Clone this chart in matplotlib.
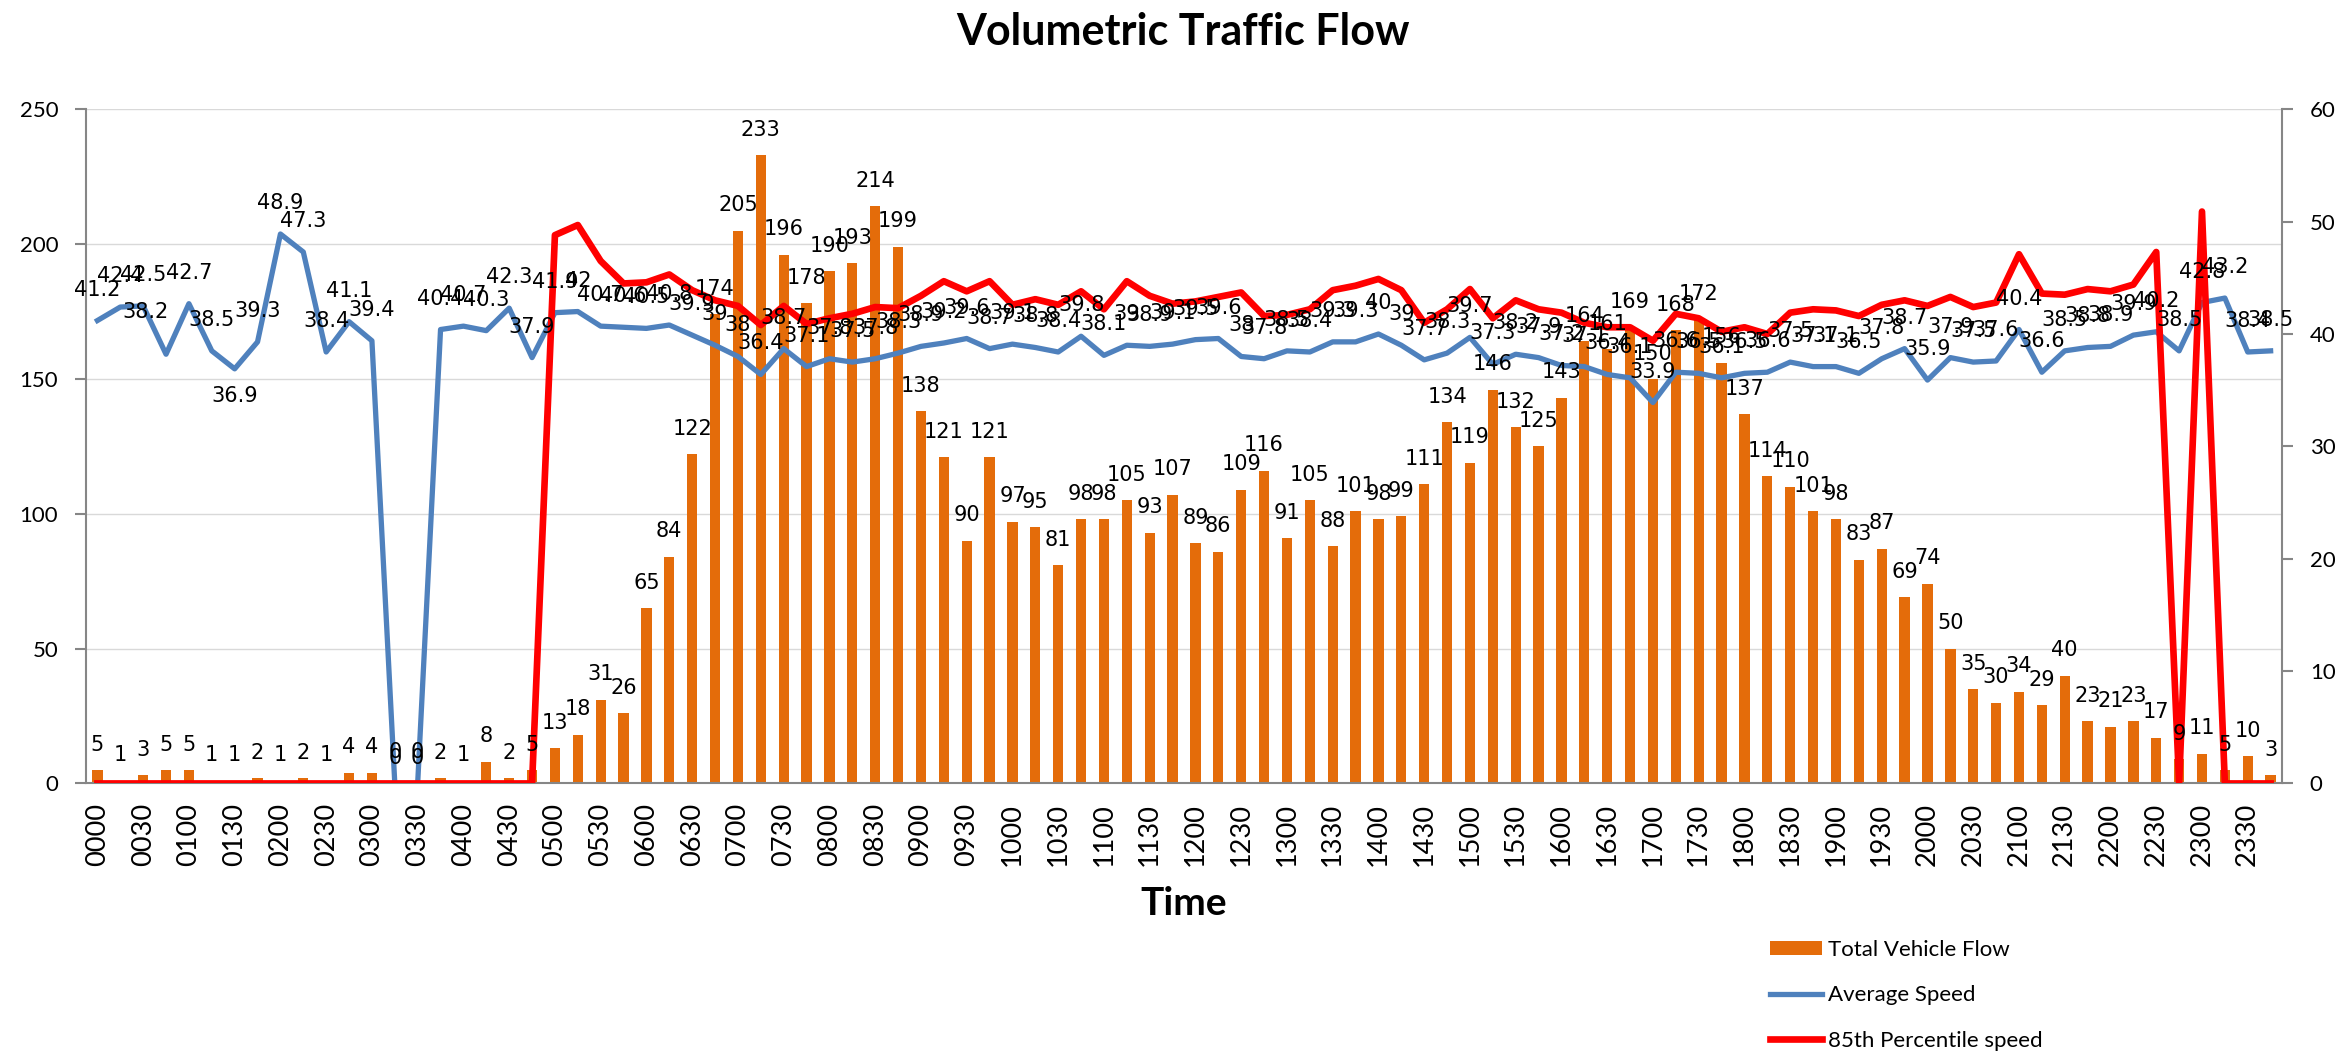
import matplotlib.pyplot as plt
import numpy as np

plt.rcParams['font.family'] = ['Lato', 'DejaVu Sans']

# 15 minute slots, 0000 .. 2345
times = ["%02d%02d" % (h, m) for h in range(24) for m in (0, 15, 30, 45)]

flow = [5, 1, 3, 5,
        5, 1, 1, 2,
        1, 2, 1, 4,
        4, 0, 0, 2,
        1, 8, 2, 5,
        13, 18, 31, 26,
        65, 84, 122, 174,
        205, 233, 196, 178,
        190, 193, 214, 199,
        138, 121, 90, 121,
        97, 95, 81, 98,
        98, 105, 93, 107,
        89, 86, 109, 116,
        91, 105, 88, 101,
        98, 99, 111, 134,
        119, 146, 132, 125,
        143, 164, 161, 169,
        150, 168, 172, 156,
        137, 114, 110, 101,
        98, 83, 87, 69,
        74, 50, 35, 30,
        34, 29, 40, 23,
        21, 23, 17, 9,
        11, 5, 10, 3]

avg_speed = [41.2, 42.4, 42.5, 38.2,
             42.7, 38.5, 36.9, 39.3,
             48.9, 47.3, 38.4, 41.1,
             39.4, 0, 0, 40.4,
             40.7, 40.3, 42.3, 37.9,
             41.9, 42, 40.7, 40.6,
             40.5, 40.8, 39.9, 39,
             38, 36.4, 38.7, 37.1,
             37.8, 37.5, 37.8, 38.3,
             38.9, 39.2, 39.6, 38.7,
             39.1, 38.8, 38.4, 39.8,
             38.1, 39, 38.9, 39.1,
             39.5, 39.6, 38, 37.8,
             38.5, 38.4, 39.3, 39.3,
             40, 39, 37.7, 38.3,
             39.7, 37.3, 38.2, 37.9,
             37.2, 37.1, 36.4, 36.1,
             33.9, 36.6, 36.5, 36.1,
             36.5, 36.6, 37.5, 37.1,
             37.1, 36.5, 37.8, 38.7,
             35.9, 37.9, 37.5, 37.6,
             40.4, 36.6, 38.5, 38.8,
             38.9, 39.9, 40.2, 38.5,
             42.8, 43.2, 38.4, 38.5]

p85_speed = [0, 0, 0, 0,
             0, 0, 0, 0,
             0, 0, 0, 0,
             0, 0, 0, 0,
             0, 0, 0, 0,
             48.8, 49.7, 46.5, 44.5,
             44.6, 45.3, 43.9, 43.0,
             42.5, 40.8, 42.5, 40.9,
             41.4, 41.8, 42.4, 42.3,
             43.4, 44.7, 43.8, 44.7,
             42.6, 43.1, 42.6, 43.8,
             42.2, 44.7, 43.4, 42.7,
             42.9, 43.3, 43.7, 41.6,
             41.7, 42.2, 43.9, 44.3,
             44.9, 43.9, 41.0, 42.2,
             44.0, 41.4, 43.0, 42.2,
             41.9, 41.0, 40.6, 40.6,
             39.4, 41.8, 41.4, 40.2,
             40.6, 40.0, 41.9, 42.2,
             42.1, 41.6, 42.6, 43.0,
             42.5, 43.3, 42.4, 42.8,
             47.1, 43.6, 43.5, 44.0,
             43.8, 44.4, 47.3, 0,
             50.9, 0, 0, 0]

# a few speed labels were dragged by hand in the original
speed_label_offset = {3: (-15, 26), 6: (0, -24)}

x = np.arange(len(times))
grey = '#868686'

fig = plt.figure(figsize=(23.49, 10.58), dpi=100)
ax = fig.add_axes([0.0366, 0.2595, 0.9349, 0.6372])
ax2 = ax.twinx()

bars = ax.bar(x, flow, width=0.45, color='#E46C0A', zorder=2,
              label='Total Vehicle Flow')
ax.set_xlim(-0.5, len(times) - 0.5)
ax.set_ylim(0, 250)
ax.set_yticks(range(0, 251, 50))
ax.yaxis.grid(True, color='#D9D9D9', lw=1.0)
ax.set_axisbelow(True)
ax.set_xticks(x[::2])
ax.set_xticklabels(times[::2], rotation=90)
ax.tick_params(axis='x', length=0, labelsize=19.5, pad=14)
ax.tick_params(axis='y', length=8, width=1.5, color=grey, labelsize=16, pad=12)

l_avg, = ax2.plot(x, avg_speed, color='#4F81BD', lw=3.8, label='Average Speed')
l_p85, = ax2.plot(x, p85_speed, color='#FF0000', lw=4.8,
                  label='85th Percentile speed')
ax2.set_ylim(0, 60)
ax2.set_yticks(range(0, 61, 10))
ax2.tick_params(axis='y', length=8, width=1.5, color=grey, labelsize=16, pad=12)

for a in (ax, ax2):
    a.spines['top'].set_visible(False)
ax.spines['right'].set_visible(False)
ax2.spines['left'].set_visible(False)
ax2.spines['bottom'].set_visible(False)
ax.spines['left'].set_color(grey)
ax.spines['left'].set_linewidth(1.5)
ax.spines['bottom'].set_color(grey)
ax.spines['bottom'].set_linewidth(1.5)
ax2.spines['right'].set_color(grey)
ax2.spines['right'].set_linewidth(1.5)

# data labels sit on top of everything
for i, v in enumerate(flow):
    ax2.annotate(str(v), xy=(i, v), xycoords=ax.transData, xytext=(0, 14),
                 textcoords='offset points', ha='center', va='baseline',
                 fontsize=15, family='DejaVu Sans', annotation_clip=False)
for i, v in enumerate(avg_speed):
    off = speed_label_offset.get(i, (0, 18))
    ax2.annotate(f"{v:g}", xy=(i, v), xytext=off, textcoords='offset points',
                 ha='center', va='baseline', fontsize=15, family='DejaVu Sans',
                 annotation_clip=False)

fig.text(0.5036, 0.957, 'Volumetric Traffic Flow', ha='center', va='baseline',
         fontsize=31, fontweight='bold')
fig.text(0.504, 0.1465, 'Time', ha='center', va='center',
         fontsize=28, fontweight='bold')

fig.legend(handles=[bars, l_avg, l_p85], loc='upper left',
           bbox_to_anchor=(0.7535, 0.112), frameon=False, fontsize=16,
           borderpad=0, borderaxespad=0, handlelength=2.35, handleheight=0.6,
           handletextpad=0.25, labelspacing=1.15)

fig.savefig('out.png', dpi=100)
